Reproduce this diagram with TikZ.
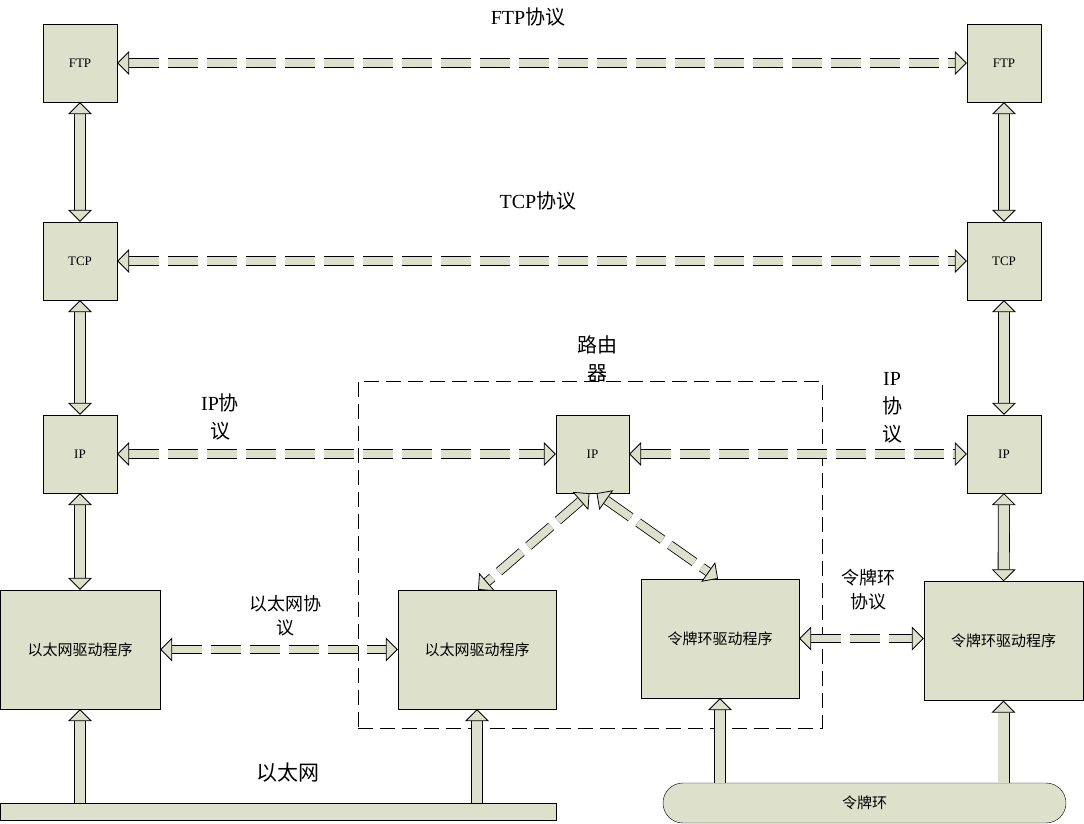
\documentclass[tikz,border=0pt]{standalone}
\usepackage{fontspec}
\setmainfont{Liberation Serif}
\newfontfamily\zh{Noto Sans CJK SC}
\usetikzlibrary{arrows.meta,positioning}
\definecolor{boxfill}{RGB}{221,224,203}
\tikzset{
	bk/.tip={Triangle[open,fill=boxfill,width=24pt,length=12pt,line width=0.8pt]},
	layer/.style={draw, fill=boxfill, minimum width=74pt, minimum height=78pt, font=\fontsize{13}{15}\selectfont},
	driver/.style={draw, fill=boxfill, minimum width=159pt, minimum height=119pt, font=\zh\fontsize{15}{18}\selectfont},
	solidarrow/.style={line width=0.8pt, double=boxfill, double distance=10.4pt},
	dasharrow/.style={line width=0.8pt, double=boxfill, double distance=7.8pt, dash pattern=on 30pt off 9pt},
	lbl/.style={align=center, font=\fontsize{20}{28}\selectfont},
	smalllbl/.style={align=center, font=\zh\fontsize{18}{24}\selectfont}
}
\begin{document}
\begin{tikzpicture}[x=1pt, y=-1pt, every node/.style={inner sep=1pt}]
	\useasboundingbox (0,0) rectangle (1084,824);
	% router
	\node[draw, dash pattern=on 15pt off 7pt, minimum width=464pt, minimum height=347pt] (router) at (590,554.5) {};
	\node[lbl] (routerlbl) at (597,359) {{\zh 路由}\\{\zh 器}};
	
	\node[layer] (ftpL) at (80,63) {FTP};
	\node[layer] (tcpL) at (80,261) {TCP};
	\node[layer] (ipL) at (80,454) {IP};
	\node[layer] (ftpR) at (1004,63) {FTP};
	\node[layer] (tcpR) at (1004,261) {TCP};
	\node[layer] (ipR) at (1004,454) {IP};
	\node[layer, minimum width=73pt] (ipRt) at (592.5,454) {IP};
	
	\node[driver, minimum width=160pt] (ethL) at (80,649.5) {以太网驱动程序};
	\node[driver, minimum width=158pt] (ethRt) at (477,649.5) {以太网驱动程序};
	\node[driver, minimum width=158pt] (tokRt) at (720,638.5) {令牌环驱动程序};
	\node[driver] (tokR) at (1003.5,641) {令牌环驱动程序};
	
	\node[draw, fill=boxfill, minimum width=556pt, minimum height=17pt, anchor=north west] (ethbar) at (0,803) {};
	\node[draw, fill=boxfill, rounded corners=20pt, minimum width=403pt, minimum height=40pt, font=\zh\fontsize{15}{18}\selectfont] (ring) at (864.5,803) {令牌环};
	
	\node[lbl] (ftplbl) at (528,17) {FTP{\zh 协议}};
	\node[lbl] (tcplbl) at (538,201) {TCP{\zh 协议}};
	\node[lbl] (iplblL) at (220,417) {IP{\zh 协}\\{\zh 议}};
	\node[lbl] (iplblR) at (892,408) {IP\\{\zh 协}\\{\zh 议}};
	\node[smalllbl] (ethlbl) at (285,616) {以太网协\\议};
	\node[smalllbl] (toklbl) at (868,590) {令牌环\\协议};
	\node[lbl, font=\zh\fontsize{21}{28}\selectfont] (ethnet) at (288,773) {以太网};
	
	\path[bk-bk] (ftpL) edge[solidarrow] (tcpL)
		(tcpL) edge[solidarrow] (ipL)
		(ipL) edge[solidarrow] (ethL)
		(ftpR) edge[solidarrow] (tcpR)
		(tcpR) edge[solidarrow] (ipR)
		(ipR) edge[solidarrow] (tokR);
	\path[bk-bk] (ftpL) edge[dasharrow] (ftpR)
		(tcpL) edge[dasharrow] (tcpR)
		(ipL) edge[dasharrow] (ipRt)
		(ipRt) edge[dasharrow] (ipR)
		(ethL) edge[dasharrow] (ethRt)
		(tokRt) edge[dasharrow] (tokRt -| tokR.west)
		([xshift=-3pt]ipRt.south) edge[dasharrow] ([xshift=1pt]ethRt.north)
		([xshift=4pt]ipRt.south) edge[dasharrow] ([xshift=-2pt]tokRt.north);
	\path[-bk] (ethL |- ethbar.north) edge[solidarrow] (ethL)
		(ethRt |- ethbar.north) edge[solidarrow] (ethRt)
		(tokRt |- ring.north) edge[solidarrow] (tokRt)
		(tokR |- ring.north) edge[solidarrow] (tokR);
\end{tikzpicture}
\end{document}
